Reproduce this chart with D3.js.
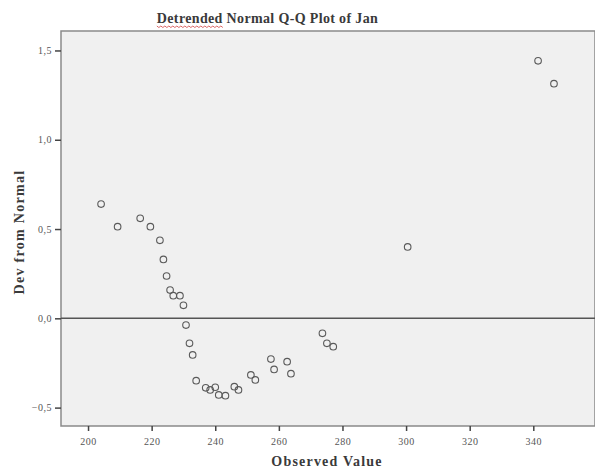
<!DOCTYPE html>
<html>
<head>
<meta charset="utf-8">
<script src="https://cdn.jsdelivr.net/npm/d3@7"></script>
<style>
	body { margin: 0; background: #fff; }
	svg text { font-family: 'Liberation Serif', 'DejaVu Serif', serif; }
</style>
</head>
<body>
<div id="chart"></div>
<script>

// Observed values and their deviation from normal
var observed = [204.1, 209.3, 216.4, 219.6, 222.6, 223.7, 224.7, 225.8, 226.8, 228.9, 230.0, 230.8, 231.9, 232.9, 234.0, 237.0, 238.4, 240.0, 241.1, 243.2, 246.0, 247.3, 251.2, 252.6, 257.5, 258.5, 262.6, 263.8, 273.7, 275.1, 277.1, 300.5, 341.5, 346.5];
var deviation = [0.64, 0.513, 0.56, 0.513, 0.437, 0.33, 0.237, 0.158, 0.127, 0.127, 0.073, -0.038, -0.14, -0.205, -0.349, -0.389, -0.401, -0.386, -0.429, -0.433, -0.383, -0.401, -0.317, -0.345, -0.228, -0.286, -0.243, -0.31, -0.084, -0.14, -0.159, 0.40, 1.442, 1.314];

var xTicks = [200, 220, 240, 260, 280, 300, 320, 340];
var yTicks = [-0.5, 0, 0.5, 1.0, 1.5];

var width = 595;
var height = 471;
var margin = { top: 31, right: 0, bottom: 45, left: 61 };

var svg = d3.select('#chart').append('svg')
	.attr('width', width)
	.attr('height', height);

var x = d3.scaleLinear().domain([191.5, 359.4]).range([margin.left, width - margin.right]);
var y = d3.scaleLinear().domain([-0.603, 1.609]).range([height - margin.bottom, margin.top]);

var fmt = function(d) { return d3.format('.1f')(d).replace('.', ','); };

// plot background
svg.append('rect')
	.attr('x', margin.left)
	.attr('y', margin.top)
	.attr('width', width - margin.left - margin.right)
	.attr('height', height - margin.top - margin.bottom)
	.style('fill', '#f0f0f0')
	.style('stroke', '#8a8a8a')
	.style('stroke-width', 1.5);

// axes
var xAxis = svg.append('g')
	.attr('transform', 'translate(0,' + (height - margin.bottom) + ')')
	.call(d3.axisBottom(x).tickValues(xTicks).tickSize(5).tickPadding(7));

var yAxis = svg.append('g')
	.attr('transform', 'translate(' + margin.left + ',0)')
	.call(d3.axisLeft(y).tickValues(yTicks).tickSize(6).tickPadding(3).tickFormat(fmt));

[xAxis, yAxis].forEach(function(a) {
	a.select('.domain').remove();
	a.selectAll('line').style('stroke', '#444').style('stroke-width', 1.5);
	a.selectAll('text').style('font-size', '10px').style('fill', '#555')
		.style('letter-spacing', '0.5px')
		.style('font-family', "'Liberation Serif', serif");
});

// zero reference line
svg.append('line')
	.attr('x1', margin.left)
	.attr('x2', width - margin.right)
	.attr('y1', y(0))
	.attr('y2', y(0))
	.style('stroke', '#555')
	.style('stroke-width', 1.5);

// points
svg.append('g').selectAll('circle')
	.data(observed)
	.enter()
	.append('circle')
	.attr('cx', function(d) { return x(d); })
	.attr('cy', function(d, i) { return y(deviation[i]); })
	.attr('r', 3.3)
	.style('fill', 'none')
	.style('stroke', '#5a5a5a')
	.style('stroke-width', 1.1);

// title
var title = svg.append('text')
	.attr('x', 267.5)
	.attr('y', 23)
	.attr('text-anchor', 'middle')
	.style('font-size', '14px')
	.style('font-weight', 'bold')
	.style('letter-spacing', '0.35px')
	.style('fill', '#3a3a3a');
title.append('tspan').attr('id', 'detr').text('Detrended');
title.append('tspan').text(' Normal Q-Q Plot of Jan');

// spell-check underline under the first word
var box = title.node().getBBox();
var wordWidth = document.getElementById('detr').getComputedTextLength();
var sx = box.x;
var wave = d3.path();
wave.moveTo(sx, 26);
for (var i = 0; i * 2 < wordWidth; i++)
	wave.lineTo(sx + (i + 1) * 2, i % 2 ? 26 : 27.5);
svg.append('path').attr('d', wave.toString()).style('fill', 'none').style('stroke', '#d04040').style('stroke-width', 0.8);

// axis titles
svg.append('text')
	.attr('x', 327)
	.attr('y', 466)
	.attr('text-anchor', 'middle')
	.style('font-size', '14px')
	.style('font-weight', 'bold')
	.style('letter-spacing', '1.2px')
	.style('fill', '#3a3a3a')
	.text('Observed Value');

svg.append('text')
	.attr('transform', 'translate(24,232) rotate(-90)')
	.attr('text-anchor', 'middle')
	.style('font-size', '14px')
	.style('font-weight', 'bold')
	.style('letter-spacing', '1.3px')
	.style('fill', '#3a3a3a')
	.text('Dev from Normal');

</script>
</body>
</html>
